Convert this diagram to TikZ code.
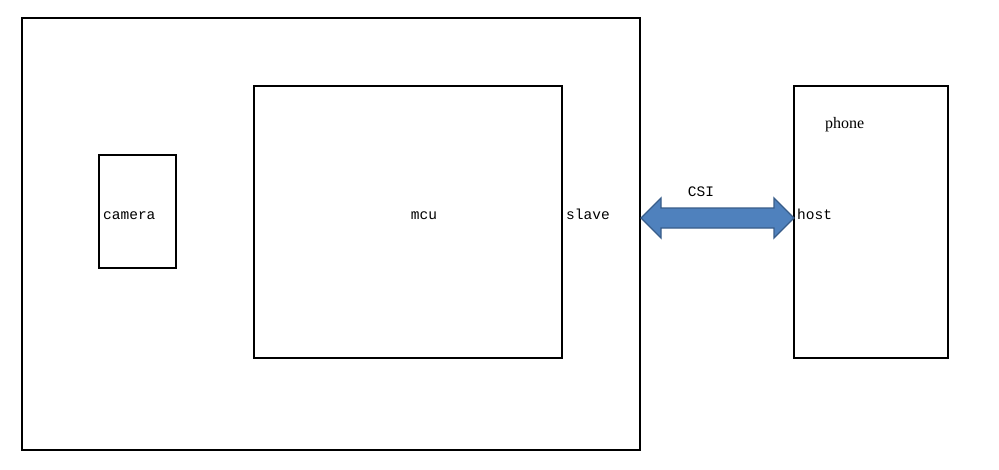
\documentclass[tikz,border=0pt]{standalone}
\usepackage{fontspec}
\setmainfont{Liberation Serif}
\setmonofont{Liberation Mono}
\usetikzlibrary{calc}
\definecolor{arrfill}{HTML}{4F81BD}
\definecolor{arrline}{HTML}{385D8A}
\begin{document}
\begin{tikzpicture}[x=1pt,y=-1pt,
  box/.style={draw=black,line width=1.3pt,inner sep=0pt},
  lbl/.style={font=\ttfamily\fontsize{14.5}{16}\selectfont,inner sep=0pt,anchor=base west},
]
\useasboundingbox (0,0) rectangle (999,469);
\fill[white] (0,0) rectangle (999,469);
\draw[box] (22,18) rectangle (640,450);
\coordinate (outerE) at (641,218);
\draw[box] (254,86) rectangle (562,358);
\draw[box] (99,155) rectangle (176,268);
\draw[box] (794,86) rectangle (948,358);
\coordinate (phoneW) at (794,218);
\node[lbl] (camera) at (103,219) {camera};
\node[lbl,anchor=base] (mcu) at (424,219) {mcu};
\node[lbl] (slave) at (566,219) {slave};
\node[lbl,anchor=base] (csi) at (701,196) {CSI};
\node[lbl] (host) at (797,219) {host};
\node[font=\fontsize{16}{18}\selectfont,inner sep=0pt,anchor=base west] (phone) at (825,128) {phone};
\filldraw[fill=arrfill,draw=arrline,line width=1.3pt,line join=miter]
  (outerE) -- ++(20,-20) -- ++(0,10) -- ($(phoneW)+(-20,-10)$) -- ++(0,-10)
  -- (phoneW) -- ++(-20,20) -- ++(0,-10) -- ($(outerE)+(20,10)$) -- ++(0,10) -- cycle;
\end{tikzpicture}
\end{document}
